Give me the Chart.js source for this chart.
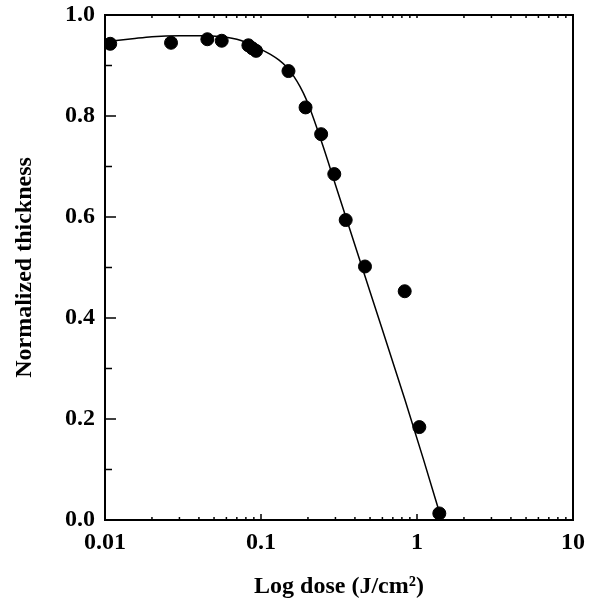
<!DOCTYPE html>
<html>
<head>
<meta charset="utf-8">
<script src="https://cdn.jsdelivr.net/npm/chart.js@4.4.0/dist/chart.umd.min.js"></script>
<style>
  html, body { margin: 0; padding: 0; background: #fff; }
  #wrap { width: 598px; height: 601px; }
</style>
</head>
<body>
<div id="wrap"><canvas id="myChart" width="598" height="601"></canvas></div>
<script>
// measured points
var doses = [0.0108, 0.0265, 0.0453, 0.056, 0.083, 0.088, 0.093, 0.15, 0.193, 0.243, 0.295, 0.349, 0.464, 0.834, 1.035, 1.39];
var thickness = [0.943, 0.945, 0.952, 0.949, 0.940, 0.934, 0.929, 0.889, 0.817, 0.764, 0.685, 0.594, 0.502, 0.453, 0.184, 0.013];

// fitted curve
var fitDoses = [0.01, 0.015, 0.02, 0.03, 0.045, 0.06, 0.07, 0.08, 0.09, 0.1, 0.115, 0.13, 0.146, 0.162, 0.178, 0.195, 0.211, 0.25, 0.3, 0.5, 0.837, 1.1, 1.44];
var fitThickness = [0.947, 0.953, 0.957, 0.959, 0.959, 0.956, 0.952, 0.946, 0.939, 0.932, 0.922, 0.911, 0.897, 0.879, 0.858, 0.833, 0.806, 0.740, 0.664, 0.452, 0.238, 0.120, 0.0];

var yTicks = [0, 0.2, 0.4, 0.6, 0.8, 1.0];
var xTicks = [0.01, 0.1, 1, 10];

function toXY(xs, ys) {
  return xs.map(function (x, i) { return { x: x, y: ys[i] }; });
}

// frame + inward tick marks
var frameTicks = {
  id: 'frameTicks',
  afterDraw: function (chart) {
    var c = chart.ctx, a = chart.chartArea;
    var xs = chart.scales.x, ys = chart.scales.y;
    c.save();
    c.strokeStyle = '#000';
    c.lineWidth = 2;
    c.strokeRect(a.left, a.top, a.right - a.left, a.bottom - a.top);
    c.lineWidth = 1.5;
    c.beginPath();
    for (var v = 0; v <= 10; v++) {
      var py = ys.getPixelForValue(v / 10);
      var len = v % 2 === 0 ? 11 : 7;
      c.moveTo(a.left, py); c.lineTo(a.left + len, py);
    }
    for (var e = -2; e < 1; e++) {
      for (var m = 1; m <= 10; m++) {
        var val = m * Math.pow(10, e);
        var px = xs.getPixelForValue(val);
        var l = (m === 1 || m === 10) ? 6 : 3;
        c.moveTo(px, a.bottom); c.lineTo(px, a.bottom - l);
        c.moveTo(px, a.top); c.lineTo(px, a.top + 3);
      }
    }
    c.stroke();
    c.restore();
  }
};

var ctx = document.getElementById('myChart').getContext('2d');
var myChart = new Chart(ctx, {
  type: 'scatter',
  data: {
    datasets: [{
      label: 'fit',
      data: toXY(fitDoses, fitThickness),
      showLine: true,
      borderColor: '#000',
      borderWidth: 1.5,
      pointRadius: 0,
      cubicInterpolationMode: 'monotone'
    }, {
      label: 'data',
      data: toXY(doses, thickness),
      backgroundColor: '#000',
      borderColor: '#000',
      pointRadius: 6.5,
      pointHoverRadius: 6.5
    }]
  },
  plugins: [frameTicks],
  options: {
    responsive: false,
    animation: false,
    layout: { padding: { top: 0, right: 25, bottom: 0, left: 0 } },
    plugins: { legend: { display: false }, tooltip: { enabled: false } },
    scales: {
      x: {
        type: 'logarithmic',
        min: 0.01,
        max: 10,
        afterBuildTicks: function (s) { s.ticks = xTicks.map(function (v) { return { value: v }; }); },
        afterFit: function (s) { s.height = 81; },
        ticks: {
          autoSkip: false,
          maxRotation: 0,
          color: '#000',
          padding: 8,
          font: { family: 'Liberation Serif', weight: 'bold', size: 24 },
          callback: function (v) { return String(v); }
        },
        grid: { display: false, drawTicks: false },
        border: { display: false },
        title: {
          display: true,
          text: 'Log dose (J/cm²)',
          color: '#000',
          padding: { top: 2, bottom: 0 },
          font: { family: 'Liberation Serif', weight: 'bold', size: 24 }
        }
      },
      y: {
        min: 0,
        max: 1,
        afterBuildTicks: function (s) { s.ticks = yTicks.map(function (v) { return { value: v }; }); },
        // pin the plot box to the reference position
        afterFit: function (s) { s.width = 105; s.paddingTop = 15; s.paddingBottom = 0; },
        ticks: {
          color: '#000',
          padding: 10,
          font: { family: 'Liberation Serif', weight: 'bold', size: 24 },
          callback: function (v) { return v.toFixed(1); }
        },
        grid: { display: false, drawTicks: false },
        border: { display: false },
        title: {
          display: true,
          text: 'Normalized thickness',
          color: '#000',
          padding: { top: 10, bottom: 0 },
          font: { family: 'Liberation Serif', weight: 'bold', size: 24 }
        }
      }
    }
  }
});
</script>
</body>
</html>
